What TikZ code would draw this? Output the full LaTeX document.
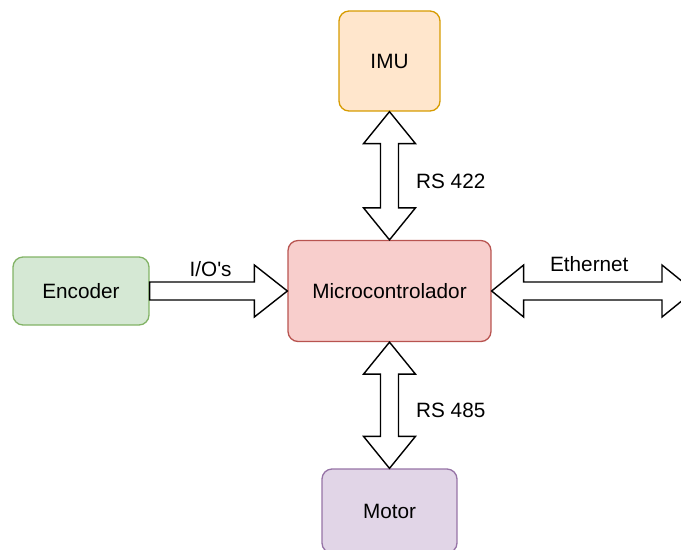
\documentclass[tikz,border=0pt]{standalone}
\usepackage{fontspec}
\setmainfont{Liberation Sans}
\usetikzlibrary{calc}
\definecolor{imufill}{HTML}{FFE6CC}
\definecolor{imuline}{HTML}{D79B00}
\definecolor{mcufill}{HTML}{F8CECC}
\definecolor{mculine}{HTML}{B85450}
\definecolor{encfill}{HTML}{D5E8D4}
\definecolor{encline}{HTML}{82B366}
\definecolor{motfill}{HTML}{E1D5E7}
\definecolor{motline}{HTML}{9673A6}
\tikzset{
  block/.style={rectangle,rounded corners=0.2cm,line width=0.75pt,inner sep=0pt,
    font=\fontsize{11.8}{14}\selectfont},
  fatarrow/.style={draw=black,fill=white,line width=0.8pt,line join=miter},
  lbl/.style={font=\fontsize{11.8}{14}\selectfont,inner sep=1pt}
}
\begin{document}
\begin{tikzpicture}[x=0.02cm,y=-0.02cm]
\useasboundingbox (0,0) rectangle (681,549);
\clip (0,0) rectangle (681,549);
\pgfmathsetmacro{\hw}{9}
\pgfmathsetmacro{\hh}{26}
\pgfmathsetmacro{\hl}{32}
% blocks
\node[block,fill=imufill,draw=imuline,minimum width=2.02cm,minimum height=2cm] (imu) at (389.5,61) {IMU};
\node[block,fill=mcufill,draw=mculine,minimum width=4.06cm,minimum height=2.02cm] (mcu) at (389.5,291) {Microcontrolador};
\node[block,fill=encfill,draw=encline,minimum width=2.72cm,minimum height=1.36cm] (enc) at (81,291) {Encoder};
\node[block,fill=motfill,draw=motline,minimum width=2.7cm,minimum height=1.68cm] (mot) at (389.5,511) {Motor};
\coordinate (eth) at (694,291);
% IMU <-> MCU
\draw[fatarrow](imu.south)--++(\hh,\hl)--++(-\hh+\hw,0)--($(mcu.north)+(\hw,-\hl)$)--++(\hh-\hw,0)--(mcu.north)--++(-\hh,-\hl)--++(\hh-\hw,0)--($(imu.south)+(-\hw,\hl)$)--++(-\hh+\hw,0)--cycle;
\path(imu.south)--(mcu.north)node[midway,right=14pt,lbl,yshift=-3pt]{RS 422};
% MCU <-> Motor
\draw[fatarrow](mcu.south)--++(\hh,\hl)--++(-\hh+\hw,0)--($(mot.north)+(\hw,-\hl)$)--++(\hh-\hw,0)--(mot.north)--++(-\hh,-\hl)--++(\hh-\hw,0)--($(mcu.south)+(-\hw,\hl)$)--++(-\hh+\hw,0)--cycle;
\path(mcu.south)--(mot.north)node[midway,right=14pt,lbl,yshift=-3pt]{RS 485};
% Encoder -> MCU
\draw[fatarrow]($(enc.east)+(0,-\hw)$)--($(mcu.west)+(-33,-\hw)$)--++(0,-\hh+\hw)--(mcu.west)--++(-33,\hh)--++(0,-\hh+\hw)--($(enc.east)+(0,\hw)$)--cycle;
\path(enc.east)--(mcu.west)node[midway,lbl,above=7pt,xshift=-4.5pt]{I/O\textquotesingle s};
% MCU <-> Ethernet
\draw[fatarrow](mcu.east)--++(\hl,-\hh)--++(0,\hh-\hw)--($(eth)+(-\hl,-\hw)$)--++(0,-\hh+\hw)--(eth)--++(-\hl,\hh)--++(0,-\hh+\hw)--($(mcu.east)+(\hl,\hw)$)--++(0,\hh-\hw)--cycle;
\path(mcu.east)--(eth)node[midway,lbl,above=10pt,xshift=-2pt]{Ethernet};
\end{tikzpicture}
\end{document}
